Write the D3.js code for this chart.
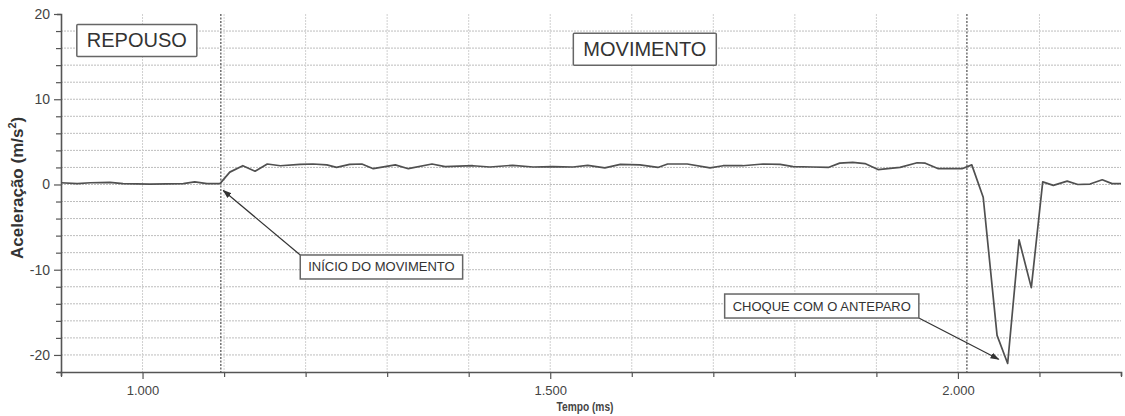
<!DOCTYPE html>
<html>
<head>
<meta charset="utf-8">
<script src="https://cdn.jsdelivr.net/npm/d3@7/dist/d3.min.js"></script>
<style>
  html, body { margin: 0; padding: 0; background: #fff; }
  svg { display: block; font-family: "Liberation Sans", Arial, sans-serif; }
</style>
</head>
<body>
<svg id="chart" width="1125" height="416"></svg>
<script>
// Accelerometer record: time (ms) and acceleration (m/s²)
const tempo = [900, 920, 936, 960, 976, 1009, 1050, 1064, 1079, 1095,
  1107, 1123, 1138, 1153, 1169, 1193, 1209, 1226, 1238, 1254,
  1269, 1283, 1310, 1326, 1355, 1371, 1405, 1426, 1454, 1479,
  1503, 1528, 1546, 1567, 1586, 1610, 1632, 1644, 1668, 1696,
  1712, 1736, 1761, 1782, 1798, 1822, 1841, 1855, 1871, 1886,
  1902, 1929, 1950, 1960, 1976, 2005, 2017, 2031, 2048, 2061,
  2075, 2090, 2104, 2117, 2134, 2147, 2162, 2177, 2189, 2200];
const aceleracao = [0.2, 0.1, 0.2, 0.25, 0.1, 0.05, 0.1, 0.3, 0.1, 0.1,
  1.45, 2.2, 1.55, 2.4, 2.2, 2.35, 2.4, 2.3, 2.0, 2.35,
  2.4, 1.85, 2.3, 1.85, 2.4, 2.1, 2.2, 2.05, 2.25, 2.05,
  2.1, 2.05, 2.25, 1.95, 2.35, 2.3, 2.0, 2.4, 2.4, 1.95,
  2.2, 2.2, 2.4, 2.35, 2.1, 2.05, 2.0, 2.5, 2.6, 2.45,
  1.75, 2.0, 2.55, 2.5, 1.85, 1.85, 2.3, -1.5, -17.7, -21,
  -6.5, -12.1, 0.3, -0.1, 0.4, 0.0, 0.05, 0.55, 0.1, 0.1];

// Axis settings
const xDomain = [900, 2200];
const yDomain = [-22, 20];
const xMajorTicks = [1000, 1500, 2000];
const xMajorLabels = ["1.000", "1.500", "2.000"];
const yMajorTicks = [-20, -10, 0, 10, 20];

// Phase markers (start of motion, impact)
const marcadores = [1096, 2011];

// Text boxes: phase names and pointed notes
const fases = [
  { texto: "REPOUSO", t: 993, a: 16.9 },
  { texto: "MOVIMENTO", t: 1616, a: 15.85 }
];
const notas = [
  { texto: "INÍCIO DO MOVIMENTO", t: 1293, a: -9.68, alvoT: 1099, alvoA: -0.7, ancora: "left" },
  { texto: "CHOQUE COM O ANTEPARO", t: 1833, a: -14.26, alvoT: 2050, alvoA: -20.5, ancora: "right" }
];

const svg = d3.select("#chart");
const mLeft = 61, mRight = 1121, mTop = 14, mBottom = 372;

const x = d3.scaleLinear().domain(xDomain).range([mLeft, mRight]);
const y = d3.scaleLinear().domain(yDomain).range([mBottom, mTop]);

const defs = svg.append("defs");
defs.append("marker")
  .attr("id", "seta").attr("viewBox", "0 0 10 10")
  .attr("refX", 9).attr("refY", 5)
  .attr("markerWidth", 9).attr("markerHeight", 9)
  .attr("markerUnits", "userSpaceOnUse")
  .attr("orient", "auto")
  .append("path").attr("d", "M0,1.5 L10,5 L0,8.5 Z").attr("fill", "#333");

// Grid
const gridY = d3.range(-20, 20, 2);
svg.append("g").selectAll("line").data(gridY).join("line")
  .attr("x1", mLeft).attr("x2", mRight)
  .attr("y1", d => y(d)).attr("y2", d => y(d))
  .attr("stroke", "#bdbdbd").attr("stroke-width", 1)
  .attr("stroke-dasharray", "2,1");
const gridX = d3.range(1000, 2200, 100);
svg.append("g").selectAll("line").data(gridX).join("line")
  .attr("x1", d => x(d)).attr("x2", d => x(d))
  .attr("y1", mTop).attr("y2", mBottom)
  .attr("stroke", "#d0d0d0").attr("stroke-width", 1)
  .attr("stroke-dasharray", "2,1");

// Phase markers
svg.append("g").selectAll("line").data(marcadores).join("line")
  .attr("x1", d => x(d)).attr("x2", d => x(d))
  .attr("y1", mTop).attr("y2", mBottom)
  .attr("stroke", "#666").attr("stroke-width", 1.4)
  .attr("stroke-dasharray", "2,1.5");

// Axes
const axisColor = "#555";
const yAxis = d3.axisLeft(y).tickValues(d3.range(-22, 21, 2))
  .tickSize(4).tickFormat(d => yMajorTicks.includes(d) ? d : "");
const gy = svg.append("g").attr("transform", `translate(${mLeft},0)`).call(yAxis);
gy.select(".domain").attr("stroke", axisColor).attr("stroke-width", 1.6);
gy.selectAll(".tick line").attr("stroke", axisColor).attr("stroke-width", 1.2)
  .attr("x2", d => yMajorTicks.includes(d) ? -7 : -5);
gy.selectAll(".tick text").attr("fill", "#444").attr("font-size", 14)
  .attr("font-family", "'Liberation Sans', Arial, sans-serif").attr("x", -11);

const xAxis = d3.axisBottom(x).tickValues(d3.range(900, 2201, 100))
  .tickSize(4).tickFormat(d => {
    const i = xMajorTicks.indexOf(d);
    return i >= 0 ? xMajorLabels[i] : "";
  });
const gx = svg.append("g").attr("transform", `translate(0,${mBottom})`).call(xAxis);
gx.select(".domain").attr("stroke", axisColor).attr("stroke-width", 1.6);
gx.selectAll(".tick line").attr("stroke", axisColor).attr("stroke-width", 1.2)
  .attr("y2", d => xMajorTicks.includes(d) ? 7 : 5);
gx.selectAll(".tick text").attr("fill", "#444").attr("font-size", 13)
  .attr("font-family", "'Liberation Sans', Arial, sans-serif").attr("y", 14);

// Axis titles
svg.append("text")
  .attr("x", 0).attr("y", 0)
  .attr("transform", "translate(585,411) scale(0.85,1)")
  .attr("text-anchor", "middle").attr("font-size", 12).attr("font-weight", "bold")
  .attr("fill", "#444")
  .text("Tempo (ms)");
const yt = svg.append("text")
  .attr("transform", `translate(23,${y(-0.4)}) rotate(-90)`)
  .attr("text-anchor", "middle").attr("font-size", 17).attr("font-weight", "bold")
  .attr("fill", "#333");
yt.append("tspan").text("Aceleração (m/s");
yt.append("tspan").attr("font-size", 11).attr("dy", -7).text("2");
yt.append("tspan").attr("dy", 7).text(")");

// Data line
const linha = d3.line().x((d, i) => x(tempo[i])).y(d => y(d));
svg.append("path").datum(aceleracao)
  .attr("d", linha).attr("fill", "none")
  .attr("stroke", "#505050").attr("stroke-width", 1.7)
  .attr("stroke-linejoin", "round");

// Phase boxes
fases.forEach(f => {
  const g = svg.append("g");
  const t = g.append("text").attr("x", x(f.t)).attr("y", y(f.a))
    .attr("text-anchor", "middle").attr("dominant-baseline", "central")
    .attr("font-size", 20).attr("fill", "#333").text(f.texto);
  const b = t.node().getBBox();
  g.insert("rect", "text")
    .attr("x", b.x - 10).attr("y", b.y - 5)
    .attr("width", b.width + 20).attr("height", b.height + 10)
    .attr("fill", "#fff").attr("stroke", "#666").attr("stroke-width", 1.5).attr("rx", 1);
});

// Notes with arrows
notas.forEach(n => {
  const seta = svg.append("line");
  const g = svg.append("g");
  const t = g.append("text").attr("x", x(n.t)).attr("y", y(n.a))
    .attr("text-anchor", "middle").attr("dominant-baseline", "central")
    .attr("font-size", 13).attr("fill", "#333").text(n.texto);
  const b = t.node().getBBox();
  const bx = b.x - 8, by = b.y - 4.5, bw = b.width + 16, bh = b.height + 9;
  const sx = n.ancora === "left" ? bx : bx + bw;
  const sy = n.ancora === "left" ? by : by + bh;
  seta.attr("x1", sx).attr("y1", sy)
    .attr("x2", x(n.alvoT)).attr("y2", y(n.alvoA))
    .attr("stroke", "#333").attr("stroke-width", 1.2)
    .attr("marker-end", "url(#seta)");
  g.insert("rect", "text")
    .attr("x", bx).attr("y", by).attr("width", bw).attr("height", bh)
    .attr("fill", "#fff").attr("stroke", "#666").attr("stroke-width", 1.5);
});
</script>
</body>
</html>
